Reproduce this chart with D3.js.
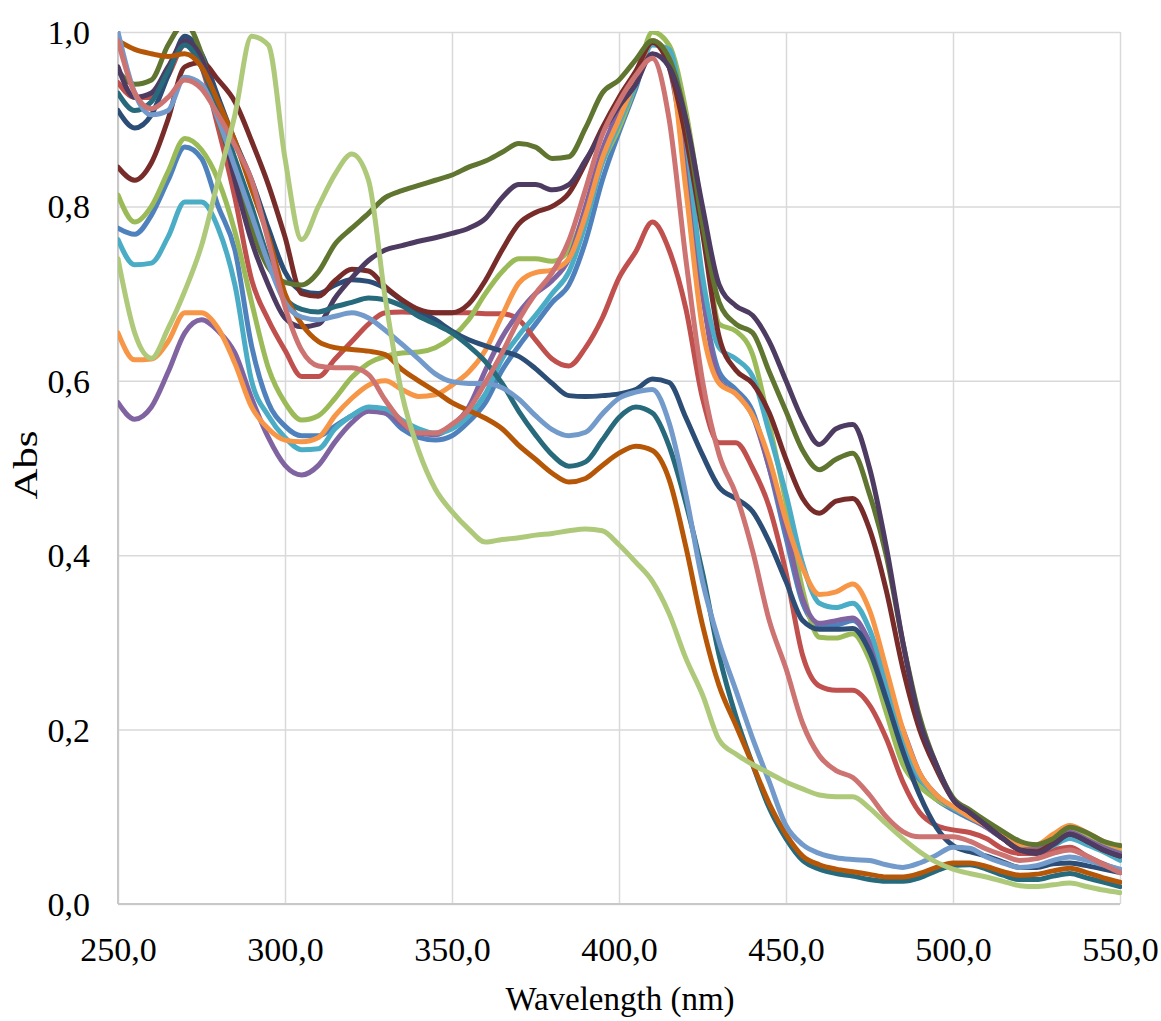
<!DOCTYPE html>
<html>
<head>
<meta charset="utf-8">
<style>
  body { margin: 0; background: #fff; }
  svg { display: block; }
  .axis text { font-family: "Liberation Serif", "Times New Roman", serif; font-size: 34px; fill: #000; }
  .axis .domain { display: none; }
  .axis .tick line { stroke: #d9d9d9; stroke-width: 1.5; }
  .title { font-family: "Liberation Serif", "Times New Roman", serif; font-size: 33px; fill: #000; }
</style>
</head>
<body>
<svg width="1161" height="1021"></svg>
<script src="https://cdn.jsdelivr.net/npm/d3@7"></script>
<script>
// wavelength grid (nm)
var wavelengths = [250,255,260,265,270,275,280,285,290,295,300,
  305,310,315,320,325,330,335,340,345,350,
  355,360,365,370,375,380,385,390,395,400,
  405,410,415,420,425,430,435,440,445,450,
  455,460,465,470,475,480,485,490,495,500,
  505,510,515,520,525,530,535,540,545,550];

// absorbance of each spectrum
var blue = [.775,.768,.79,.83,.868,.855,.8,.75,.64,.575,.548,
  .537,.537,.548,.56,.567,.563,.545,.535,.532,.537,
  .553,.575,.612,.64,.665,.69,.71,.76,.83,.885,
  .935,.99,.97,.86,.7,.61,.59,.565,.5,.42,
  .345,.32,.32,.325,.3,.245,.18,.14,.12,.108,
  .098,.088,.075,.063,.062,.07,.078,.07,.062,.055];
var red = [.942,.925,.925,.95,.985,.96,.89,.81,.716,.67,.635,
  .605,.605,.625,.645,.665,.678,.679,.678,.678,.678,
  .678,.677,.677,.67,.647,.625,.617,.638,.672,.718,
  .748,.782,.75,.683,.58,.529,.529,.5,.455,.38,
  .285,.25,.245,.245,.228,.19,.14,.105,.09,.085,
  .082,.075,.063,.058,.058,.062,.065,.055,.046,.039];
var green = [.813,.782,.8,.84,.878,.865,.83,.771,.69,.615,.575,
  .555,.56,.58,.604,.62,.628,.632,.633,.638,.65,
  .67,.7,.725,.74,.74,.737,.75,.795,.85,.89,
  .94,1.0,.985,.91,.79,.665,.657,.63,.55,.46,
  .36,.306,.305,.31,.28,.22,.16,.135,.12,.11,
  .1,.09,.078,.068,.066,.075,.085,.078,.068,.06];
var purple = [.575,.556,.57,.61,.655,.67,.657,.632,.58,.535,.503,
  .492,.503,.53,.552,.565,.563,.55,.54,.538,.548,
  .57,.612,.65,.678,.7,.715,.74,.8,.865,.91,
  .95,.99,.96,.85,.7,.6,.585,.56,.5,.43,
  .35,.322,.325,.328,.3,.25,.2,.15,.125,.11,
  .1,.088,.075,.064,.063,.072,.082,.074,.065,.058];
var aqua = [.762,.733,.735,.765,.805,.805,.775,.71,.6,.56,.535,
  .521,.522,.545,.56,.57,.568,.555,.545,.54,.545,
  .56,.585,.625,.652,.675,.7,.725,.78,.85,.895,
  .94,.985,.98,.88,.72,.638,.625,.605,.54,.47,
  .39,.345,.34,.345,.315,.255,.19,.145,.125,.11,
  .1,.09,.077,.063,.06,.067,.075,.068,.06,.05];
var orange = [.655,.624,.625,.645,.678,.678,.66,.62,.57,.545,.532,
  .53,.535,.56,.58,.595,.6,.59,.582,.584,.595,
  .61,.635,.675,.712,.724,.727,.74,.79,.855,.9,
  .945,.99,.97,.82,.66,.597,.585,.56,.51,.44,
  .385,.355,.358,.367,.337,.27,.2,.15,.125,.112,
  .1,.09,.078,.068,.068,.08,.09,.082,.072,.065];
var darkBlue = [.91,.89,.905,.95,.995,.975,.925,.875,.83,.775,.725,
  .703,.7,.71,.716,.714,.706,.692,.68,.67,.657,
  .647,.64,.634,.628,.614,.597,.583,.582,.583,.585,
  .59,.602,.598,.558,.515,.478,.465,.45,.415,.37,
  .325,.315,.315,.316,.29,.235,.175,.125,.088,.067,
  .06,.055,.048,.042,.042,.046,.047,.044,.04,.036];
var darkRed = [.845,.83,.85,.9,.96,.965,.945,.92,.875,.825,.765,
  .7,.697,.715,.728,.726,.708,.693,.682,.678,.678,
  .688,.715,.75,.78,.793,.8,.815,.85,.89,.925,
  .955,.988,.96,.88,.77,.65,.612,.597,.563,.51,
  .465,.448,.462,.465,.43,.36,.27,.2,.155,.12,
  .105,.09,.075,.062,.06,.07,.08,.072,.062,.055];
var darkGreen = [.955,.94,.945,.985,1.01,.975,.9,.84,.775,.73,.713,
  .71,.725,.757,.775,.792,.81,.818,.824,.83,.836,
  .845,.852,.862,.872,.868,.855,.857,.89,.93,.945,
  .968,.99,.97,.9,.78,.69,.665,.655,.61,.565,
  .52,.498,.51,.517,.47,.4,.3,.215,.16,.122,
  .108,.095,.083,.072,.068,.075,.088,.082,.072,.067];
var darkPurple = [.96,.925,.93,.96,.99,.97,.91,.83,.76,.71,.672,
  .662,.665,.695,.718,.738,.75,.755,.76,.764,.769,
  .775,.786,.81,.825,.825,.819,.825,.853,.885,.915,
  .94,.975,.96,.9,.8,.71,.686,.675,.645,.6,
  .555,.527,.545,.55,.5,.41,.3,.21,.16,.12,
  .105,.09,.075,.062,.058,.068,.08,.072,.062,.055];
var darkTeal = [.93,.91,.92,.955,.985,.96,.91,.855,.8,.74,.695,
  .682,.679,.685,.69,.695,.693,.686,.674,.665,.655,
  .64,.622,.597,.565,.538,.515,.502,.507,.532,.558,
  .57,.563,.525,.46,.38,.285,.215,.16,.11,.075,
  .05,.04,.035,.032,.028,.026,.026,.03,.038,.044,
  .045,.04,.033,.028,.028,.032,.035,.03,.025,.02];
var darkOrange = [.99,.98,.975,.972,.975,.96,.92,.875,.82,.765,.7,
  .665,.645,.638,.636,.634,.63,.613,.6,.588,.575,
  .566,.557,.545,.526,.51,.494,.484,.488,.503,.517,
  .525,.52,.487,.41,.32,.25,.205,.16,.115,.08,
  .055,.045,.04,.037,.034,.031,.031,.035,.042,.047,
  .047,.043,.037,.033,.034,.038,.041,.036,.03,.025];
var lightBlue = [1.0,.93,.905,.91,.948,.94,.9,.845,.79,.735,.69,
  .673,.67,.674,.678,.672,.658,.642,.625,.608,.599,
  .597,.597,.592,.579,.56,.544,.537,.541,.562,.58,
  .587,.59,.552,.47,.37,.3,.245,.19,.14,.09,
  .068,.058,.053,.051,.05,.045,.042,.047,.056,.065,
  .064,.054,.047,.042,.044,.05,.054,.05,.045,.04];
var lightRed = [.99,.93,.912,.925,.945,.935,.905,.87,.83,.76,.685,
  .635,.617,.615,.615,.607,.578,.553,.54,.54,.55,
  .567,.598,.632,.67,.7,.724,.761,.82,.882,.92,
  .95,.97,.9,.74,.6,.515,.47,.405,.325,.27,
  .207,.17,.153,.145,.125,.1,.083,.077,.077,.077,
  .072,.063,.056,.05,.052,.058,.062,.055,.045,.036];
var lightGreen = [.74,.655,.626,.66,.703,.755,.83,.905,.995,.985,.855,
  .762,.8,.837,.86,.83,.695,.585,.52,.476,.45,
  .43,.415,.418,.42,.423,.425,.428,.43,.428,.412,
  .392,.37,.333,.282,.24,.188,.172,.16,.15,.14,
  .132,.125,.123,.123,.11,.092,.075,.06,.048,.04,
  .035,.031,.026,.021,.02,.022,.024,.02,.016,.013];

var seriesList = [blue, red, green, purple, aqua, orange, darkBlue, darkRed,
  darkGreen, darkPurple, darkTeal, darkOrange, lightBlue, lightRed, lightGreen];
var seriesColors = ["#4F81BD","#C0504D","#9BBB59","#8064A2","#4BACC6","#F79646",
  "#2C4D75","#772C2A","#5F7530","#4D3B62","#276A7C","#B65708",
  "#729ACA","#CD7371","#AFC97A"];

var xTicks = [250, 300, 350, 400, 450, 500, 550];
var yTicks = [0, 0.2, 0.4, 0.6, 0.8, 1.0];

var margin = {top: 32, right: 41, bottom: 117, left: 118};
var width = 1161 - margin.left - margin.right;
var height = 1021 - margin.top - margin.bottom;

var comma = d3.formatLocale({decimal: ",", thousands: ".", grouping: [3], currency: ["", ""]}).format(".1f");

var svg = d3.select("svg");
var g = svg.append("g").attr("transform", "translate(" + margin.left + "," + margin.top + ")");

var x = d3.scaleLinear().domain([250, 550]).range([0, width]);
var y = d3.scaleLinear().domain([0, 1]).range([height, 0]);

g.append("g")
  .attr("class", "axis")
  .call(d3.axisLeft(y).tickValues(yTicks).tickFormat(comma)
    .tickSizeInner(-width).tickSizeOuter(0).tickPadding(28))
  .selectAll("text").attr("dy", "0.34em");

g.append("g")
  .attr("class", "axis")
  .attr("transform", "translate(0," + height + ")")
  .call(d3.axisBottom(x).tickValues(xTicks).tickFormat(comma)
    .tickSizeInner(-height).tickSizeOuter(0).tickPadding(33));

// axis lines
g.append("line").attr("x1", 0).attr("x2", 0).attr("y1", 0).attr("y2", height)
  .attr("stroke", "#c8c8c8").attr("stroke-width", 2);
g.append("line").attr("x1", 0).attr("x2", width).attr("y1", height).attr("y2", height)
  .attr("stroke", "#c8c8c8").attr("stroke-width", 2);

svg.append("clipPath").attr("id", "plot-clip")
  .append("rect").attr("x", 0).attr("y", -1).attr("width", width + 2).attr("height", height + 4);

var line = d3.line()
  .x(function(d, i) { return x(wavelengths[i]); })
  .y(function(d) { return y(d); })
  .curve(d3.curveMonotoneX);

g.append("g").attr("clip-path", "url(#plot-clip)")
  .selectAll("path").data(seriesList).enter().append("path")
  .attr("d", line)
  .attr("fill", "none")
  .attr("stroke", function(d, i) { return seriesColors[i]; })
  .attr("stroke-width", 5)
  .attr("stroke-linejoin", "round")
  .attr("stroke-linecap", "round");

svg.append("text").attr("class", "title")
  .attr("text-anchor", "middle")
  .attr("transform", "translate(620,1010)")
  .text("Wavelength (nm)");

svg.append("text").attr("class", "title")
  .attr("text-anchor", "middle")
  .attr("transform", "translate(37,465) rotate(-90) scale(1.3,1)")
  .text("Abs");
</script>
</body>
</html>
